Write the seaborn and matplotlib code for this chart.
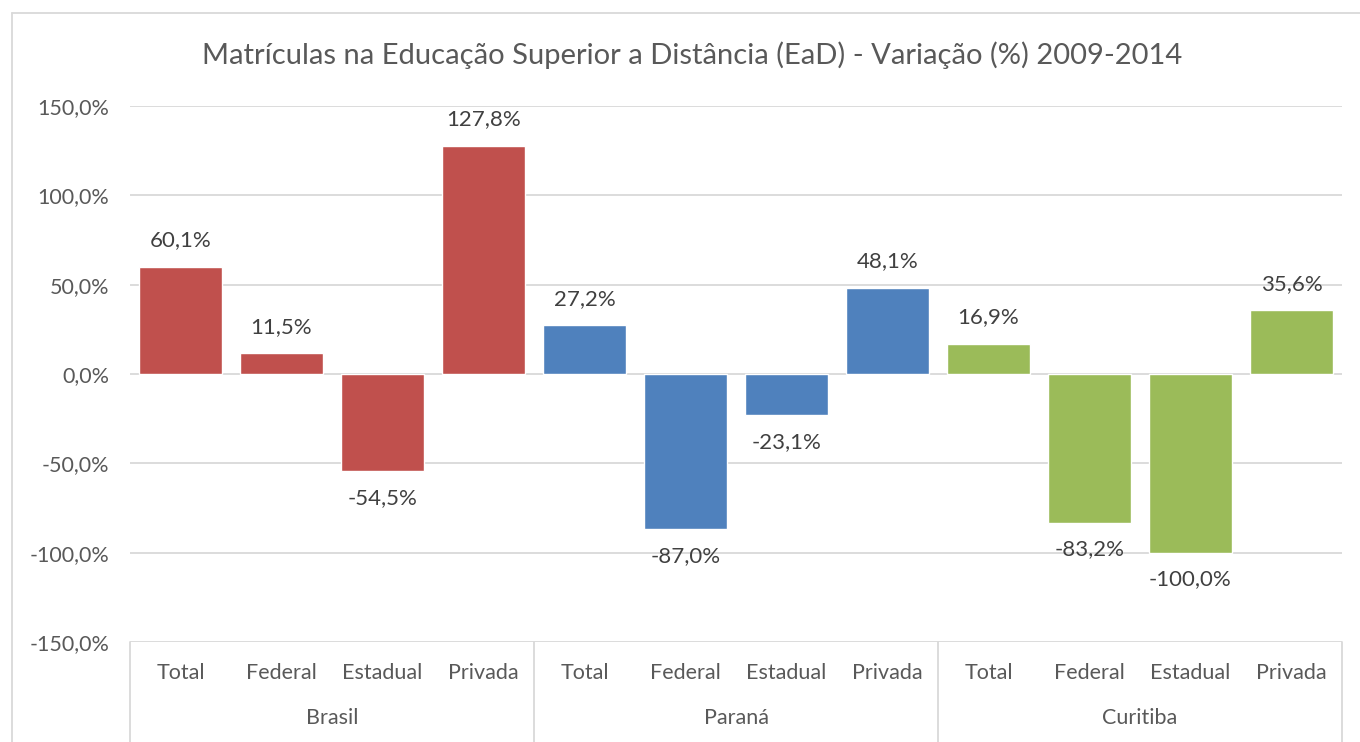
import matplotlib.pyplot as plt
import matplotlib.ticker as tick
import matplotlib.lines as mlines
import pandas as pd
import seaborn as sns

# chart data
regions = ["Brasil", "Paraná", "Curitiba"]
categories = ["Total", "Federal", "Estadual", "Privada"]
brasil = [60.1, 11.5, -54.5, 127.8]
parana = [27.2, -87.0, -23.1, 48.1]
curitiba = [16.9, -83.2, -100.0, 35.6]
colors = ["#C0504D", "#4F81BD", "#9BBB59"]

rows = []
for reg, vals in zip(regions, [brasil, parana, curitiba]):
    for cat, v in zip(categories, vals):
        rows.append({"Regiao": reg, "Categoria": cat, "Chave": reg + "-" + cat, "Valor": v})
df = pd.DataFrame(rows)

sns.set_style("white")
plt.rcParams["font.family"] = ["Lato", "DejaVu Sans"]
txt = "#595959"
grid = "#D9D9D9"
fs = 15.5

W, H = 1360, 742
fig = plt.figure(figsize=(13.6, 7.42), dpi=100)
ax = fig.add_axes([130 / W, 1 - 642 / H, (1342 - 130) / W, (642 - 106) / H])

sns.barplot(data=df, x="Chave", y="Valor", hue="Regiao", palette=colors,
            dodge=False, width=0.82, legend=False, ax=ax, saturation=1)

ax.set_ylim(-150, 150)
ax.set_xlim(-0.5, len(df) - 0.5)
ax.set_yticks(range(-150, 151, 50))
ax.yaxis.set_major_formatter(tick.FuncFormatter(lambda y, p: f"{y:.1f}%".replace(".", ",")))
ax.yaxis.grid(True, color=grid, linewidth=1.3)
ax.set_axisbelow(True)
for s in ax.spines.values():
    s.set_visible(False)
ax.tick_params(axis="y", length=0, labelsize=fs, labelcolor=txt, pad=15)
ax.tick_params(axis="x", length=0, labelsize=fs, labelcolor=txt, pad=15)
ax.set_xticks(range(len(df)))
ax.set_xticklabels(df["Categoria"])
ax.set_xlabel("")
ax.set_ylabel("")

# data labels
for p in ax.patches:
    h = p.get_height()
    if p.get_width() == 0:
        continue
    x = p.get_x() + p.get_width() / 2
    lab = f"{h:.1f}%".replace(".", ",")
    if h >= 0:
        ax.annotate(lab, xy=(x, h), xytext=(0, 12), textcoords="offset points",
                    ha="center", va="bottom", fontsize=16, color="#404040")
    else:
        ax.annotate(lab, xy=(x, h), xytext=(0, -12), textcoords="offset points",
                    ha="center", va="top", fontsize=16, color="#404040")

# group labels and separators
trans = ax.get_xaxis_transform()
for i, reg in enumerate(regions):
    ax.text(i * 4 + 1.5, -0.142, reg, transform=trans, ha="center", va="center",
            fontsize=fs, color=txt)
for b in [-0.5, 3.5, 7.5, 11.5]:
    ax.plot([b, b], [0, -0.26], transform=trans, color=grid, linewidth=1.3, clip_on=False)

# chart border
fig.add_artist(mlines.Line2D([12 / W, 1], [1 - 13 / H, 1 - 13 / H], color=grid, linewidth=1.3))
fig.add_artist(mlines.Line2D([12 / W, 12 / W], [0, 1 - 13 / H], color=grid, linewidth=1.3))

fig.text(692 / W, 1 - 55 / H, "Matrículas na Educação Superior a Distância (EaD) - Variação (%) 2009-2014",
         ha="center", va="center", fontsize=21, color=txt)

fig.savefig("out.png", dpi=100)
